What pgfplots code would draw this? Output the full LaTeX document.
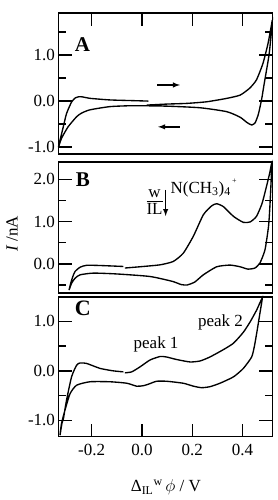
\documentclass[border=0pt]{standalone}
\usepackage{pgfplots}
\pgfplotsset{compat=1.18}
\usepackage{fontspec}
\setmainfont{Liberation Serif}
\pgfplotsset{cvstyle/.style={
  x=251.5pt, xmin=-0.332, xmax=0.518,
  axis line style={line width=1.5pt},
  major tick length=13pt, minor tick length=7pt,
  every tick/.style={line width=1.4pt, black},
  ytick distance=1, minor y tick num=1,
  ytick pos=both, tick align=inside,
  xtick={-0.2,0,0.2,0.4},
  /pgf/number format/fixed, /pgf/number format/fixed zerofill, /pgf/number format/precision=1, /pgf/number format/assume math mode=true,
  ticklabel style={font=\fontsize{17}{19}\selectfont},
  clip=false,
  anchor=south west,
},
cvline/.style={black, line width=1.35pt, smooth, tension=0.35},
}
\tikzset{
plab/.style={font=\fontsize{21}{23}\selectfont\bfseries},
tlab/.style={font=\fontsize{17}{19}\selectfont},
}
\begin{document}
\begin{tikzpicture}
\useasboundingbox (0,0) rectangle (277pt,500pt);
% Panel A
\begin{axis}[cvstyle, at={(58.5pt,346pt)}, y=46pt, ymin=-1.15, ymax=1.91,
  xtick pos=right, xticklabels={}]
\addplot[cvline] coordinates {
(0.019,-0.087)(0.098,-0.065)(0.178,-0.05)(0.257,-0.015)(0.336,0.058)(0.39,0.13)(0.428,0.28)(0.455,0.46)(0.481,0.82)(0.501,1.25)(0.513,1.6)(0.518,1.75)
(0.512,1.35)(0.505,1.0)(0.496,0.70)(0.485,0.35)(0.476,0.05)(0.463,-0.28)(0.45,-0.47)(0.436,-0.52)(0.416,-0.46)(0.39,-0.35)(0.337,-0.23)(0.231,-0.145)(0.098,-0.11)(-0.035,-0.10)(-0.127,-0.12)(-0.207,-0.19)(-0.24,-0.26)(-0.26,-0.34)(-0.294,-0.56)(-0.32,-0.81)(-0.332,-1.0)
(-0.326,-0.85)(-0.313,-0.56)(-0.3,-0.27)(-0.28,-0.02)(-0.265,0.07)(-0.25,0.095)(-0.235,0.09)(-0.207,0.06)(-0.127,0.025)(-0.035,0.01)(0.025,0.0)
};
\node[plab] at (axis cs:-0.237,1.22) {A};
\draw[-latex, line width=1.4pt] (axis cs:0.06,0.35) -- (axis cs:0.151,0.35);
\draw[-latex, line width=1.4pt] (axis cs:0.151,-0.56) -- (axis cs:0.064,-0.56);
\end{axis}
% Panel B
\begin{axis}[cvstyle, at={(58.5pt,207pt)}, y=42.3pt, ymin=-0.69, ymax=2.41,
  xtick=\empty]
\addplot[cvline] coordinates {
(-0.068,-0.10)(0.005,-0.063)(0.072,-0.024)(0.124,0.055)(0.164,0.25)(0.204,0.65)(0.244,1.16)(0.277,1.37)(0.297,1.42)(0.324,1.35)(0.364,1.12)(0.403,0.98)(0.43,0.99)(0.455,1.12)(0.477,1.42)(0.495,1.83)(0.508,2.15)(0.516,2.38)
(0.513,1.9)(0.508,1.3)(0.503,0.88)(0.489,0.33)(0.469,0.02)(0.449,-0.10)(0.421,-0.125)(0.39,-0.07)(0.35,-0.03)(0.297,-0.07)(0.244,-0.26)(0.21,-0.43)(0.18,-0.50)(0.155,-0.49)(0.124,-0.42)(0.032,-0.30)(-0.10,-0.24)(-0.193,-0.22)(-0.246,-0.26)(-0.266,-0.34)(-0.28,-0.46)(-0.29,-0.62)
(-0.283,-0.45)(-0.275,-0.30)(-0.266,-0.18)(-0.246,-0.08)(-0.22,-0.035)(-0.167,-0.04)(-0.074,-0.063)
};
\node[plab] at (axis cs:-0.235,1.99) {B};
\node[tlab, inner sep=0pt] at (axis cs:0.05,1.45) {\begin{tabular}{@{}c@{}}w\\[-2pt]\hline\rule{0pt}{13pt}IL\end{tabular}};
\draw[-latex, line width=1.4pt] (axis cs:0.094,1.75) -- (axis cs:0.094,1.13);
\node[tlab, anchor=west, inner sep=0pt] at (axis cs:0.113,1.80) {N(CH\textsubscript{3})\textsubscript{4}\raisebox{10pt}{\footnotesize\,+}};
\node[tlab, rotate=90] at (axis cs:-0.517,0.71) {\textit{I} /nA};
\end{axis}
% Panel C
\begin{axis}[cvstyle, at={(58.5pt,63.3pt)}, y=49.5pt, ymin=-1.33, ymax=1.49,
  xtick pos=left, xticklabel style={yshift=-4pt}]
\addplot[cvline] coordinates {
(-0.068,-0.04)(-0.041,-0.02)(-0.008,0.08)(0.032,0.22)(0.072,0.29)(0.098,0.28)(0.137,0.23)(0.191,0.18)(0.231,0.20)(0.27,0.28)(0.324,0.43)(0.364,0.56)(0.403,0.78)(0.43,0.99)(0.456,1.23)(0.478,1.47)
(0.47,1.2)(0.458,0.82)(0.447,0.5)(0.436,0.28)(0.403,0.05)(0.364,-0.12)(0.31,-0.25)(0.27,-0.32)(0.237,-0.34)(0.205,-0.31)(0.164,-0.25)(0.098,-0.21)(0.058,-0.21)(0.025,-0.27)(0.005,-0.30)(-0.021,-0.31)(-0.06,-0.25)(-0.127,-0.22)(-0.207,-0.22)(-0.26,-0.29)(-0.286,-0.46)(-0.306,-0.79)(-0.32,-1.06)(-0.326,-1.30)
(-0.318,-1.05)(-0.313,-0.98)(-0.30,-0.59)(-0.28,-0.12)(-0.26,0.115)(-0.246,0.16)(-0.22,0.15)(-0.167,0.05)(-0.114,0.0)(-0.074,-0.02)
};
\node[plab, font=\fontsize{22}{24}\selectfont\bfseries] at (axis cs:-0.235,1.27) {C};
\node[tlab] at (axis cs:0.056,0.54) {peak 1};
\node[tlab] at (axis cs:0.312,0.98) {peak 2};
\node[tlab] at (axis cs:0.095,-2.35) {Δ\textsubscript{IL}\textsuperscript{w}\,$\phi$ / V};
\end{axis}
\end{tikzpicture}
\end{document}
